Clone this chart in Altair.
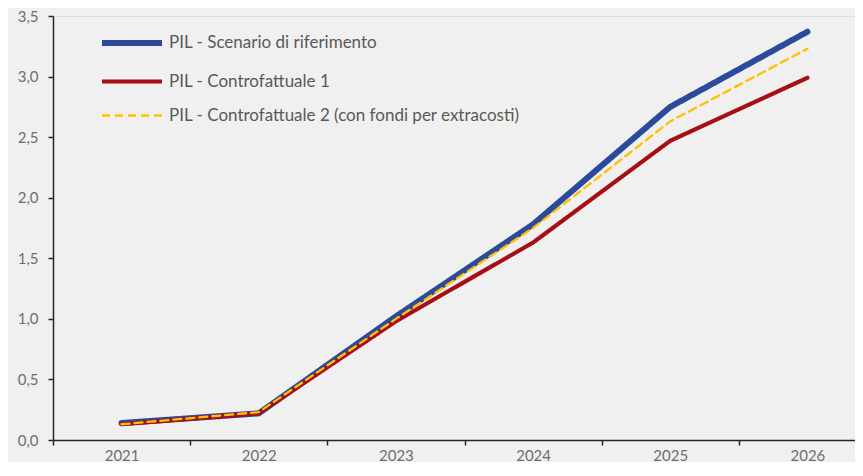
import altair as alt
import pandas as pd

years = ["2021", "2022", "2023", "2024", "2025", "2026"]
series_names = [
    "PIL - Scenario di riferimento",
    "PIL - Controfattuale 1",
    "PIL - Controfattuale 2 (con fondi per extracosti)",
]
riferimento = [0.14, 0.22, 1.02, 1.78, 2.75, 3.37]
contro1 = [0.13, 0.22, 0.98, 1.63, 2.47, 2.99]
contro2 = [0.13, 0.23, 1.00, 1.75, 2.63, 3.23]

colors = ["#2B4A9B", "#A80F14", "#FFC000"]
widths = [6, 2.3, 3]
dashes = [[1, 0], [1, 0], [8, 5]]

rows = []
for name, vals in zip(series_names, [riferimento, contro1, contro2]):
    for y, v in zip(years, vals):
        rows.append({"anno": y, "valore": v, "serie": name})
df = pd.DataFrame(rows)

x_enc = alt.X(
    "anno:N",
    scale=alt.Scale(type="band", paddingInner=0, paddingOuter=0, range=[0, 823]),
    axis=alt.Axis(
        title=None, labelAngle=0, tickBand="extent", tickSize=5,
        labelPadding=3, labelFontSize=15, labelColor="#6E6E6E",
        domainColor="#262626", tickColor="#262626", domainWidth=1.5, tickWidth=1.5,
        grid=False,
    ),
)
y_enc = alt.Y(
    "valore:Q",
    scale=alt.Scale(domain=[0, 3.5], nice=False),
    axis=alt.Axis(
        title=None, values=[0, 0.5, 1, 1.5, 2, 2.5, 3, 3.5], format=".1f",
        labelExpr="replace(datum.label, '.', ',')", tickSize=5, labelPadding=10,
        labelFontSize=15, labelColor="#6E6E6E", domainColor="#262626",
        tickColor="#262626", domainWidth=1.5, tickWidth=1.5, grid=False,
    ),
)
legend = alt.Legend(
    title=None, orient="none", legendX=56, legendY=4, symbolType="M-1.5,0H1.5",
    symbolSize=1600, labelFontSize=17, labelColor="#595959", labelOffset=14,
    rowPadding=4, padding=0, labelLimit=600,
)
color_enc = alt.Color("serie:N", scale=alt.Scale(domain=series_names, range=colors), legend=legend, sort=series_names)
width_enc = alt.StrokeWidth("serie:N", scale=alt.Scale(domain=series_names, range=widths), legend=legend, sort=series_names)
dash_enc = alt.StrokeDash("serie:N", scale=alt.Scale(domain=series_names, range=dashes), legend=legend, sort=series_names)

layers = []
for name in series_names:
    layers.append(
        alt.Chart(df).transform_filter(alt.datum.serie == name)
        .mark_line(strokeCap="round", strokeJoin="round")
        .encode(x=x_enc, y=y_enc, color=color_enc, strokeWidth=width_enc, strokeDash=dash_enc)
    )

chart = (
    alt.layer(*layers)
    .properties(
        width=802, height=424,
        autosize=alt.AutoSizeParams(type="none"),
        padding={"left": 45, "top": 8, "right": 0, "bottom": 22},
        background="#F0F0F0",
    )
    .configure_view(stroke=None)
    .configure(font="Lato")
)

chart.save("out.html", embed_options={"renderer": "svg", "actions": False})
